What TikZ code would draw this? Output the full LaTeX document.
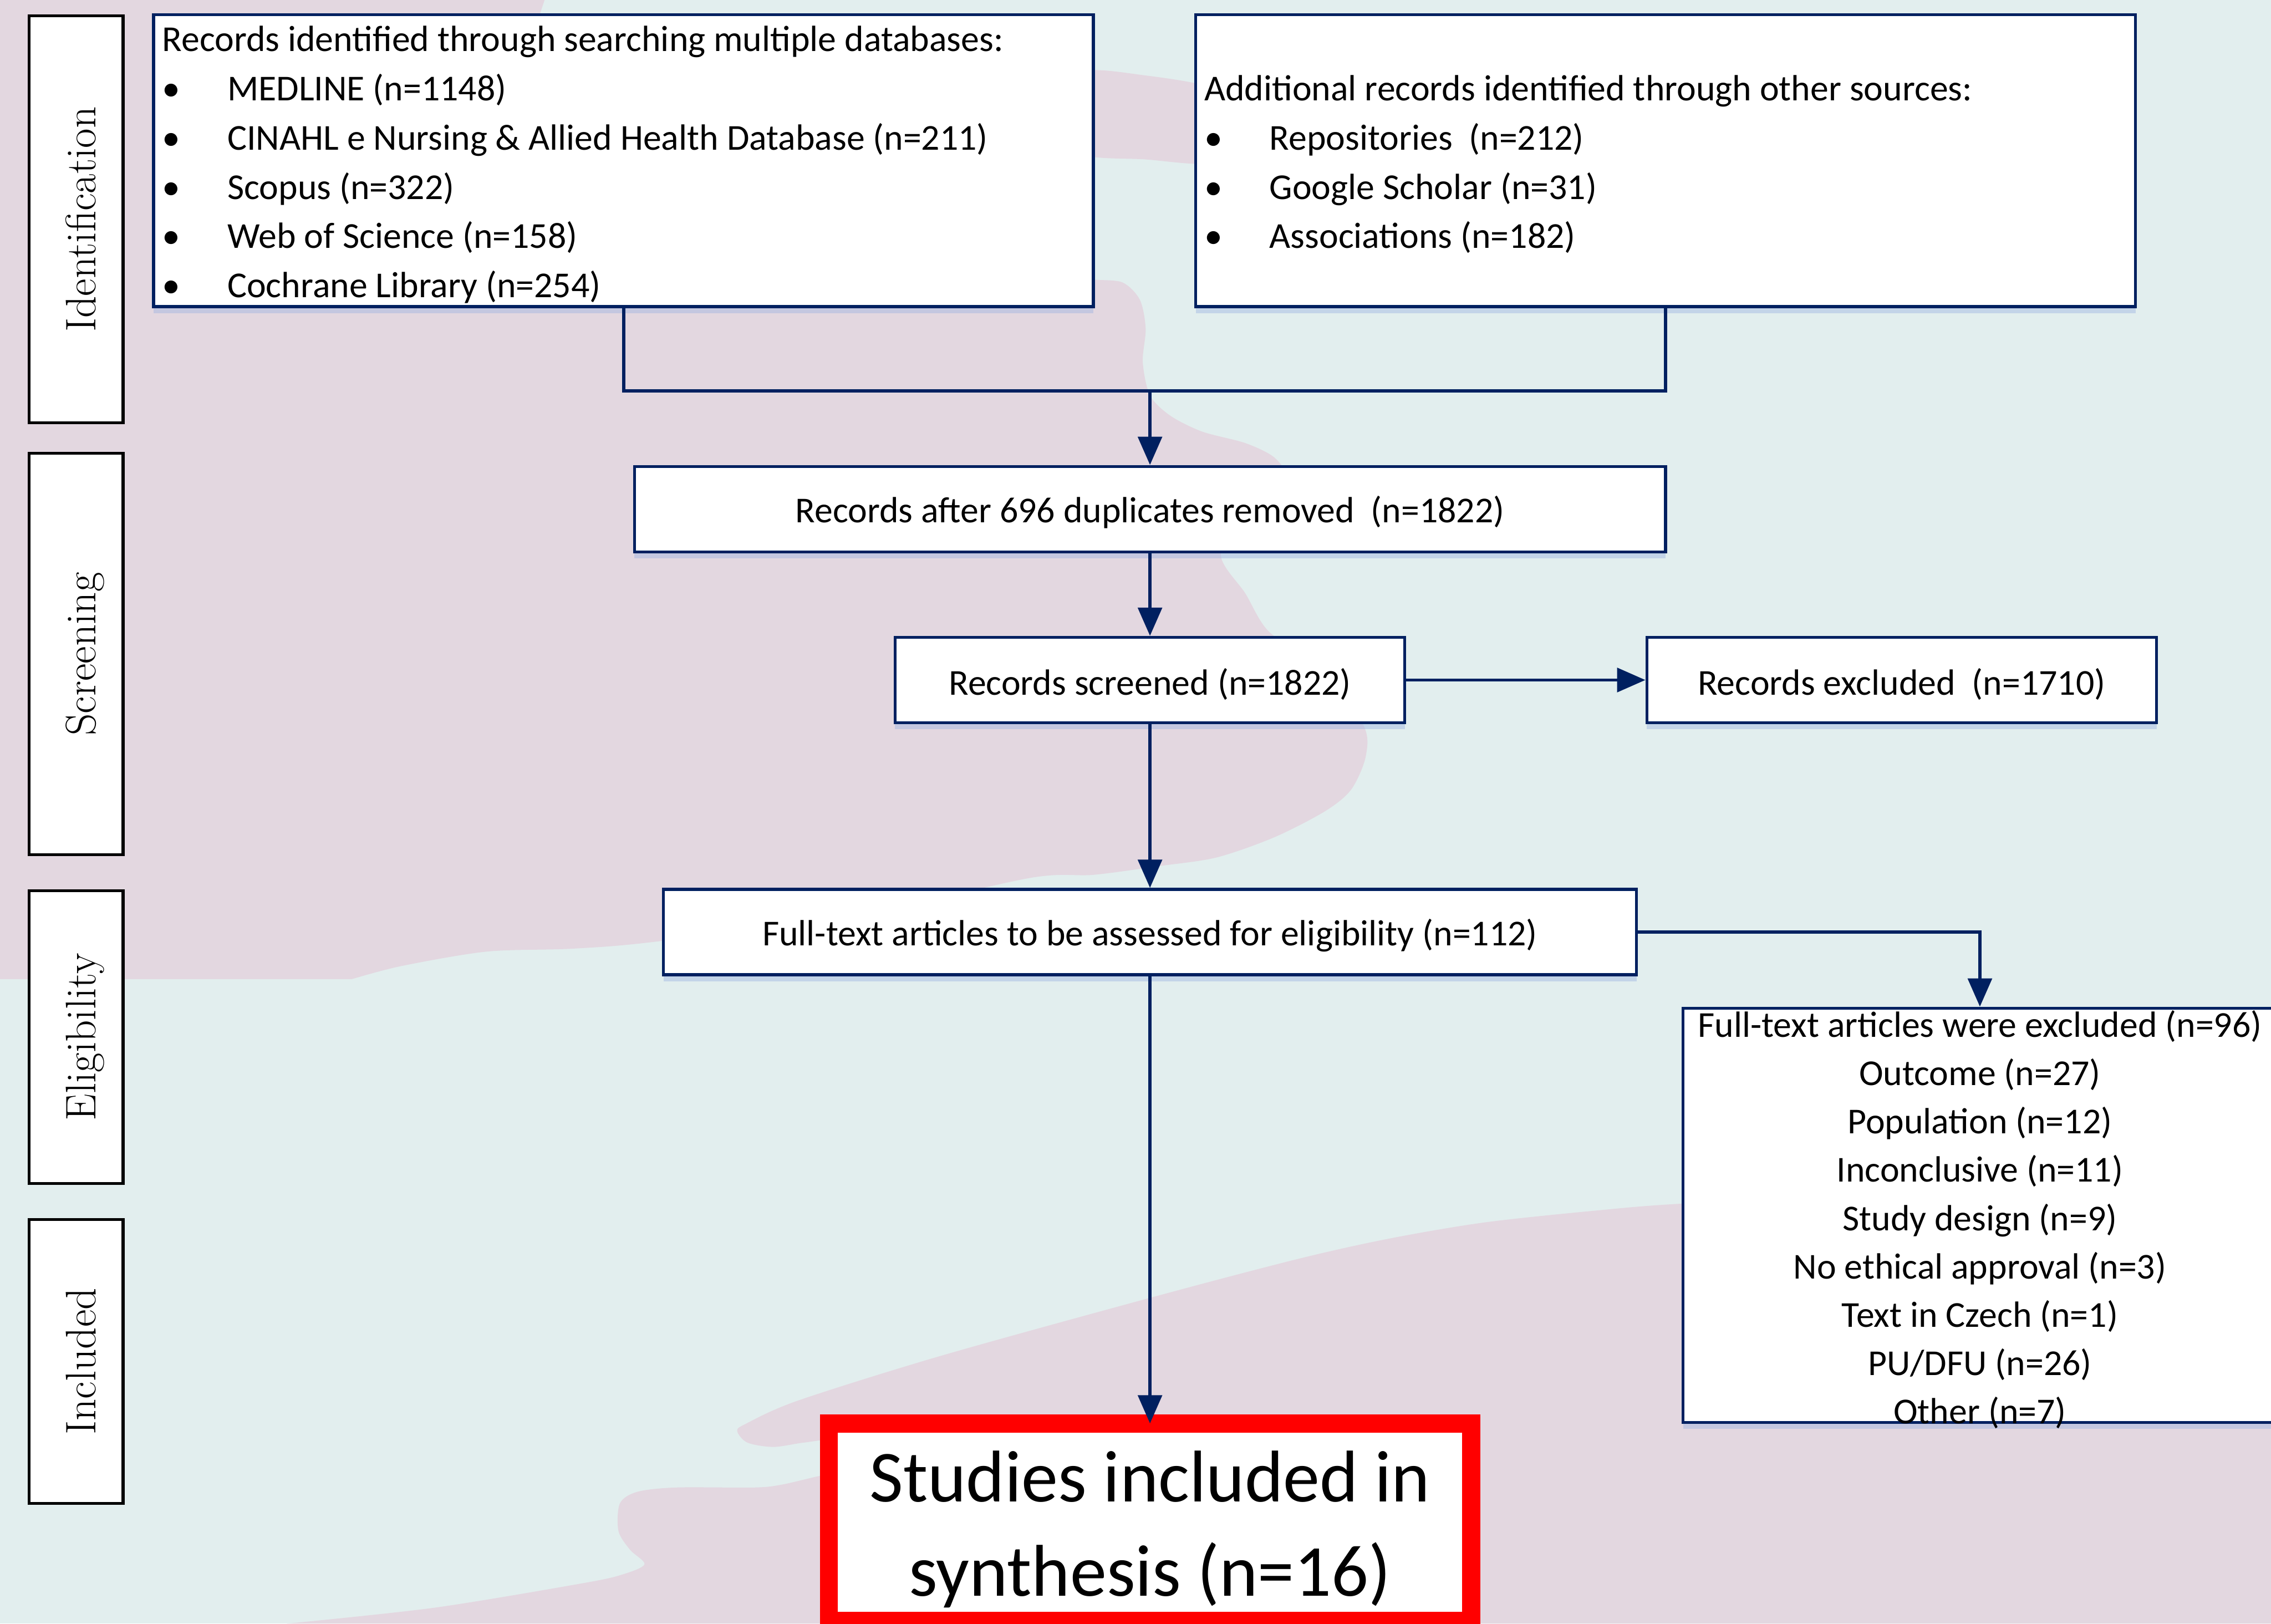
\documentclass[tikz,border=0pt]{standalone}
\usepackage{fontspec}
\newfontfamily\carl{Carlito}
\usetikzlibrary{arrows.meta,shadows}
\definecolor{navy}{HTML}{002060}
\definecolor{pinkbg}{RGB}{227,215,224}
\definecolor{tealbg}{RGB}{226,238,238}
\definecolor{shadowc}{RGB}{150,175,225}
\definecolor{redbox}{HTML}{FF0000}
\newcommand\bul{\makebox[0.9cm][l]{•}}
\newcommand\dn[2]{\raisebox{-#1}[\height][\depth]{#2}}
\begin{document}
\begin{tikzpicture}[x=0.02cm,y=-0.02cm,
  stagebox/.style={draw=black, line width=0.04cm, fill=white, rotate=90, inner sep=0pt,
    minimum height=1.3cm, text height=0.6cm, text depth=0.06cm,
    font=\fontsize{16.8pt}{20pt}\selectfont},
  flowbox/.style={draw=navy, line width=0.04cm, fill=white, inner sep=0pt,
    font=\carl\fontsize{14.34pt}{19.35pt}\selectfont,
    drop shadow={shadow xshift=0cm, shadow yshift=-0.09cm, fill=shadowc, opacity=0.4}},
  arr/.style={draw=navy, line width=0.045cm, -{Triangle[length=0.39cm,width=0.33cm]}},
  link/.style={draw=navy, line width=0.045cm},
]
\useasboundingbox (0,0) rectangle (1568,1121);
% background
\fill[tealbg] (0,0) rectangle (1568,1121);
\fill[pinkbg] (0,676) -- (0,0) -- (376,0) -- (372,12) -- plot[smooth, tension=0.5] coordinates {
  (740,190) (755,193) (775,195) (787,207) (791,227) (789,250) (794,273) (808,287) (830,298)
  (860,306) (880,316) (887,330) (870,355) (843,382) (860,410) (876,436) (910,460) (941,500)
  (943,522) (933,545) (915,560) (880,578) (840,592) (800,598) (755,604) (712,606) (600,630)
  (454,650) (395,655) (336,657) (277,667) (243,676)} -- cycle;
\fill[pinkbg] plot[smooth cycle, tension=0.5] coordinates {
  (745,50) (790,52) (840,62) (845,85) (840,112) (790,110) (745,106) (730,80)};
\fill[pinkbg] (1568,1121) -- (1568,818) -- plot[smooth, tension=0.5] coordinates {
  (1300,825) (1162,831) (1100,836) (1025,844) (960,855) (897,869) (798,895) (650,936)
  (551,967) (515,983) (509,988) (516,996) (534,999) (555,996) (580,994) (600,1005) (580,1017)
  (566,1019) (540,1025) (521,1027) (467,1027) (440,1030) (428,1038) (427,1057) (435,1070)
  (445,1080) (430,1087) (403,1093) (300,1110) (198,1121)} -- cycle;
% stage labels
\node[stagebox, minimum width=5.62cm] (S1) at (52.5,151.5) {Identification};
\node[stagebox, minimum width=5.54cm] (S2) at (52.5,451.5) {Screening};
\node[stagebox, minimum width=4.04cm] (S3) at (52.5,716) {Eligibility};
\node[stagebox, minimum width=3.92cm] (S4) at (52.5,940) {Included};
% flow boxes
\node[flowbox, minimum width=12.98cm, minimum height=4.03cm, inner xsep=0.12cm] (A) at (430.5,111)
  {\dn{0.055cm}{\parbox{12.74cm}{Records identified through searching multiple databases:\\
  \bul MEDLINE (n=1148)\\
  \bul CINAHL e Nursing \& Allied Health Database (n=211)\\
  \bul Scopus (n=322)\\
  \bul Web of Science (n=158)\\
  \bul Cochrane Library (n=254)}}};
\node[flowbox, minimum width=12.98cm, minimum height=4.03cm, inner xsep=0.12cm] (B) at (1150,111)
  {\dn{0.05cm}{\parbox{12.74cm}{Additional records identified through other sources:\\
  \bul Repositories\ \ (n=212)\\
  \bul Google Scholar (n=31)\\
  \bul Associations (n=182)}}};
\node[flowbox, minimum width=14.24cm, minimum height=1.18cm] (C) at (794,351.5)
  {\dn{0.045cm}{Records after 696 duplicates removed\ \ (n=1822)}};
\node[flowbox, minimum width=7.04cm, minimum height=1.18cm] (D) at (794,469.5)
  {\dn{0.055cm}{Records screened (n=1822)}};
\node[flowbox, minimum width=7.04cm, minimum height=1.18cm] (E) at (1313,469.5)
  {\dn{0.055cm}{Records excluded\ \ (n=1710)}};
\node[flowbox, minimum width=13.44cm, minimum height=1.18cm] (F) at (794,643.5)
  {\dn{0.045cm}{Full-text articles to be assessed for eligibility (n=112)}};
\node[flowbox, font=\carl\fontsize{14.34pt}{19.0pt}\selectfont] (G) at (1367,839)
  {\parbox[c][5.72cm][c]{8.2cm}{\centering\vspace*{0.12cm}
  Full-text articles were excluded (n=96)\\
  Outcome (n=27)\\
  Population (n=12)\\
  Inconclusive (n=11)\\
  Study design (n=9)\\
  No ethical approval (n=3)\\
  Text in Czech (n=1)\\
  PU/DFU (n=26)\\
  Other (n=7)}};
\node[draw=redbox, line width=0.25cm, fill=white, inner sep=0pt, outer sep=0pt,
  font=\carl\fontsize{28.8pt}{37pt}\selectfont] (H) at (794,1051)
  {\parbox[c][2.73cm][c]{8.87cm}{\centering\vspace*{0.2cm}Studies included in\\ synthesis (n=16)}};
% connectors
\coordinate (J) at (794,270);
\draw[link] (A.south) |- (J) -| (B.south);
\draw[arr] (J) -- (C.north);
\draw[arr] (C.south) -- (D.north);
\draw[arr] (D.east) -- (E.west);
\draw[arr] (D.south) -- (F.north);
\draw[arr] (F.east) -| (G.north);
\draw[arr] (F.south) -- (H.north);
\end{tikzpicture}
\end{document}
